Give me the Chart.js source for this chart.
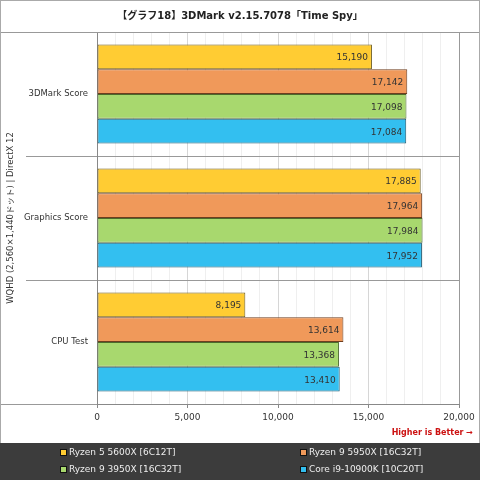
<!DOCTYPE html>
<html>
<head>
<meta charset="utf-8">
<script src="https://cdn.jsdelivr.net/npm/chart.js@4"></script>
<style>
  html, body { margin: 0; padding: 0; background: #fff; }
  #wrap { width: 480px; height: 480px; }
</style>
</head>
<body>
<div id="wrap"><canvas id="grafica" width="480" height="480"></canvas></div>
<script>
// Datos de la gráfica
const chartTitle = '【グラフ18】3DMark v2.15.7078「Time Spy」';
const axisTitle = 'WQHD (2,560×1,440ドット) | DirectX 12';
const categories = ['3DMark Score', 'Graphics Score', 'CPU Test'];
const seriesNames = ['Ryzen 5 5600X [6C12T]', 'Ryzen 9 5950X [16C32T]', 'Ryzen 9 3950X [16C32T]', 'Core i9-10900K [10C20T]'];
const ryzen5600x = [15190, 17885, 8195];
const ryzen5950x = [17142, 17964, 13614];
const ryzen3950x = [17098, 17984, 13368];
const corei10900k = [17084, 17952, 13410];
const xTicks = [0, 5000, 10000, 15000, 20000];

const fillColors = ['#ffcc33', '#f0995a', '#a8d86e', '#33bff0'];
const borderColors = ['#6b5a1c', '#6e3d1e', '#4b6a2c', '#1c5a72'];
const fontFamily = "'DejaVu Sans', 'Noto Sans CJK JP', sans-serif";

Chart.defaults.font.family = fontFamily;
Chart.defaults.color = '#333';

const seriesValues = [ryzen5600x, ryzen5950x, ryzen3950x, corei10900k];
const datasets = seriesNames.map((name, i) => ({
    label: name,
    data: seriesValues[i],
    backgroundColor: fillColors[i],
    borderColor: borderColors[i],
    borderWidth: 1,
    borderSkipped: false,
    categoryPercentage: 0.8,
    barPercentage: 1.0
}));

// Dibujo extra: fondo, título, etiquetas, leyenda, líneas
const decoraciones = {
    id: 'decoraciones',
    beforeDraw(chart) {
        const ctx = chart.ctx;
        ctx.save();
        ctx.fillStyle = '#ffffff';
        ctx.fillRect(0, 0, chart.width, chart.height);
        ctx.restore();
    },
    afterDatasetsDraw(chart) {
        const ctx = chart.ctx;
        ctx.save();
        ctx.font = '9px ' + fontFamily;
        ctx.fillStyle = '#333';
        ctx.textAlign = 'right';
        ctx.textBaseline = 'middle';
        chart.data.datasets.forEach((ds, i) => {
            const meta = chart.getDatasetMeta(i);
            meta.data.forEach((bar, j) => {
                ctx.fillText(ds.data[j].toLocaleString('en-US'), bar.x - 4, bar.y + 1);
            });
        });
        ctx.restore();
    },
    afterDraw(chart) {
        const ctx = chart.ctx;
        const area = chart.chartArea;
        const yScale = chart.scales.y;
        const W = chart.width, H = chart.height;
        ctx.save();
        ctx.lineWidth = 1;

        // título
        ctx.fillStyle = '#222';
        ctx.font = 'bold 10px ' + fontFamily;
        ctx.textAlign = 'center';
        ctx.textBaseline = 'middle';
        ctx.fillText(chartTitle, W / 2, 16);

        // líneas de marco
        ctx.strokeStyle = '#999';
        ctx.beginPath();
        ctx.moveTo(0, area.top + 0.5); ctx.lineTo(W, area.top + 0.5);
        ctx.moveTo(0, area.bottom + 0.5); ctx.lineTo(area.left, area.bottom + 0.5);
        ctx.moveTo(area.right + 0.5, area.top); ctx.lineTo(area.right + 0.5, area.bottom);
        // separadores entre categorías
        for (let i = 1; i < categories.length; i++) {
            const y = Math.round((yScale.getPixelForValue(i - 1) + yScale.getPixelForValue(i)) / 2) + 0.5;
            ctx.moveTo(26, y); ctx.lineTo(area.left, y);
        }
        ctx.stroke();
        ctx.strokeStyle = '#aaa';
        ctx.strokeRect(0.5, 0.5, W - 1, H - 1);

        // Higher is Better
        ctx.fillStyle = '#cc1111';
        ctx.font = 'bold 8px ' + fontFamily;
        ctx.textAlign = 'right';
        ctx.fillText('Higher is Better →', 473, 433);

        // leyenda
        const top = 443;
        ctx.fillStyle = '#3c3c3c';
        ctx.fillRect(0, top, W, H - top);
        ctx.font = '9px ' + fontFamily;
        ctx.textAlign = 'left';
        const cols = [60, 300];
        const rows = [452, 469];
        chart.data.datasets.forEach((ds, i) => {
            const x = cols[i % 2];
            const y = rows[Math.floor(i / 2)];
            ctx.fillStyle = ds.backgroundColor;
            ctx.fillRect(x, y - 3, 7, 7);
            ctx.strokeStyle = '#111';
            ctx.strokeRect(x + 0.5, y - 3 + 0.5, 6, 6);
            ctx.fillStyle = '#eeeeee';
            ctx.fillText(ds.label, x + 9, y + 1);
        });
        ctx.restore();
    }
};

const ctx = document.getElementById('grafica').getContext('2d');
new Chart(ctx, {
    type: 'bar',
    data: {
        labels: categories,
        datasets: datasets
    },
    options: {
        indexAxis: 'y',
        responsive: false,
        animation: false,
        layout: { padding: { top: 32, right: 21, bottom: 0, left: 0 } },
        plugins: {
            legend: { display: false },
            tooltip: { enabled: false },
            title: { display: false }
        },
        scales: {
            x: {
                min: xTicks[0],
                max: xTicks[xTicks.length - 1],
                afterFit(scale) { scale.height = 76; },
                ticks: {
                    stepSize: 1000,
                    autoSkip: false,
                    maxRotation: 0,
                    padding: 4,
                    font: { size: 9 },
                    color: '#333',
                    callback: (value) => xTicks.includes(value) ? value.toLocaleString('en-US') : ''
                },
                grid: {
                    color: (c) => xTicks.includes(c.tick.value) ? '#d6d6d6' : '#efefef',
                    tickColor: (c) => xTicks.includes(c.tick.value) ? '#888' : 'rgba(0,0,0,0)',
                    tickLength: 4
                },
                border: { color: '#888' }
            },
            y: {
                afterFit(scale) { scale.width = 97; },
                ticks: {
                    padding: 9,
                    font: { size: 8.5 },
                    color: '#333'
                },
                grid: {
                    offset: true,
                    color: '#999',
                    drawTicks: false
                },
                border: { color: '#888' },
                title: {
                    display: true,
                    text: axisTitle,
                    font: { size: 8.5 },
                    color: '#333',
                    padding: { top: 6, bottom: 0 }
                }
            }
        }
    },
    plugins: [decoraciones]
});
</script>
</body>
</html>
